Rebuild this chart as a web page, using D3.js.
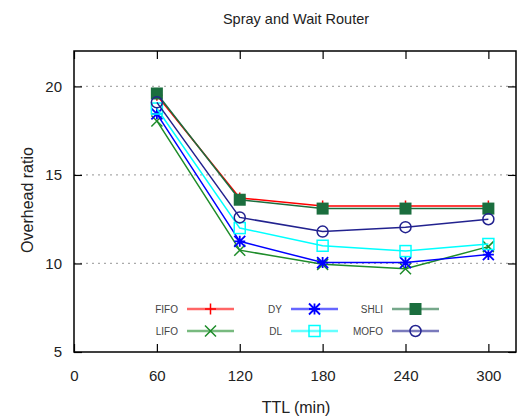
<!DOCTYPE html>
<html>
<head>
<meta charset="utf-8">
<script src="https://cdn.jsdelivr.net/npm/d3@7"></script>
<style>
  body { margin: 0; background: #fff; }
  text { font-family: "Liberation Sans", Arial, sans-serif; }
</style>
</head>
<body>
<svg id="chart" width="523" height="418"></svg>
<script>
// TTL values (min)
const ttl = [60, 120, 180, 240, 300];

// overhead ratio per buffer policy
const fifo = [19.5, 13.7, 13.25, 13.25, 13.25];
const lifo = [18.05, 10.75, 9.95, 9.7, 10.95];
const dy   = [18.45, 11.25, 10.05, 10.05, 10.5];
const dl   = [18.75, 12.0, 11.0, 10.7, 11.1];
const shli = [19.6, 13.6, 13.1, 13.1, 13.1];
const mofo = [19.1, 12.6, 11.8, 12.05, 12.5];

const xTicks = [0, 60, 120, 180, 240, 300];
const yTicks = [5, 10, 15, 20];

const series = [
    { name: "FIFO", values: fifo, color: "#ff0000", marker: "plus" },
    { name: "LIFO", values: lifo, color: "#1e8c2a", marker: "cross" },
    { name: "DY",   values: dy,   color: "#0000ff", marker: "star" },
    { name: "DL",   values: dl,   color: "#00ffff", marker: "square" },
    { name: "SHLI", values: shli, color: "#1b6e3e", marker: "filledSquare" },
    { name: "MOFO", values: mofo, color: "#22228f", marker: "circle" }
];

const svg = d3.select("#chart");
const margin = { left: 74, right: 7, top: 51, bottom: 66 };
const width = 523 - margin.left - margin.right;
const height = 418 - margin.top - margin.bottom;

const x = d3.scaleLinear().domain([0, 320]).range([0, width]);
const y = d3.scaleLinear().domain([5, 22]).range([height, 0]);

const g = svg.append("g").attr("transform", `translate(${margin.left},${margin.top})`);

// dotted grid
g.selectAll(".grid")
    .data(yTicks.filter(d => d > 5))
    .join("line")
    .attr("x1", 0).attr("x2", width)
    .attr("y1", d => y(d)).attr("y2", d => y(d))
    .attr("stroke", "#aaa")
    .attr("stroke-width", 1.2)
    .attr("stroke-dasharray", "2,4");

// axes with inward ticks
const axisStyle = sel => {
    sel.select(".domain").remove();
    sel.selectAll("line").attr("stroke", "#000").attr("stroke-width", 1.2);
    sel.selectAll("text").attr("font-size", 15).attr("fill", "#222")
        .attr("font-family", "Liberation Sans, Arial, sans-serif");
};

g.append("g")
    .attr("transform", `translate(0,${height})`)
    .call(d3.axisBottom(x).tickValues(xTicks).tickSizeInner(-8).tickSizeOuter(0).tickPadding(18))
    .call(axisStyle);
g.append("g")
    .call(d3.axisTop(x).tickValues(xTicks).tickSizeInner(-8).tickSizeOuter(0).tickFormat(""))
    .call(axisStyle);
g.append("g")
    .call(d3.axisLeft(y).tickValues(yTicks).tickSizeInner(-8).tickSizeOuter(0).tickPadding(12))
    .call(axisStyle);
g.append("g")
    .attr("transform", `translate(${width},0)`)
    .call(d3.axisRight(y).tickValues(yTicks).tickSizeInner(-8).tickSizeOuter(0).tickFormat(""))
    .call(axisStyle);

// frame
g.append("rect")
    .attr("width", width).attr("height", height)
    .attr("fill", "none").attr("stroke", "#000").attr("stroke-width", 1.5);

// marker drawing
function drawMarker(sel, type, color, s) {
    if (type === "plus") {
        sel.append("path").attr("d", `M${-s},0H${s}M0,${-s}V${s}`)
            .attr("stroke", color).attr("stroke-width", 1.5).attr("fill", "none");
    } else if (type === "cross") {
        sel.append("path").attr("d", `M${-s},${-s}L${s},${s}M${-s},${s}L${s},${-s}`)
            .attr("stroke", color).attr("stroke-width", 1.5).attr("fill", "none");
    } else if (type === "star") {
        sel.append("path").attr("d", `M${-s},0H${s}M0,${-s}V${s}M${-s},${-s}L${s},${s}M${-s},${s}L${s},${-s}`)
            .attr("stroke", color).attr("stroke-width", 1.8).attr("fill", "none");
    } else if (type === "square") {
        sel.append("rect").attr("x", -s).attr("y", -s).attr("width", 2 * s).attr("height", 2 * s)
            .attr("stroke", color).attr("stroke-width", 1.5).attr("fill", "none");
    } else if (type === "filledSquare") {
        sel.append("rect").attr("x", -s).attr("y", -s).attr("width", 2 * s).attr("height", 2 * s)
            .attr("fill", color);
    } else if (type === "circle") {
        sel.append("circle").attr("r", s)
            .attr("stroke", color).attr("stroke-width", 1.5).attr("fill", "none");
    }
}

const line = d3.line().x((d, i) => x(ttl[i])).y(d => y(d));

series.forEach(s => {
    g.append("path")
        .datum(s.values)
        .attr("d", line)
        .attr("fill", "none")
        .attr("stroke", s.color)
        .attr("stroke-width", 1.5);
    s.values.forEach((v, i) => {
        const m = g.append("g").attr("transform", `translate(${x(ttl[i])},${y(v)})`);
        drawMarker(m, s.marker, s.color, s.marker === "filledSquare" ? 6 : 5.5);
    });
});

// legend: three columns, two rows
const legendCols = [178, 282, 383];
const legendRows = [309, 331];
series.forEach((s, i) => {
    const col = Math.floor(i / 2), row = i % 2;
    const lx = legendCols[col], ly = legendRows[row];
    const lg = svg.append("g");
    lg.append("text")
        .attr("x", lx).attr("y", ly + 3.5)
        .attr("text-anchor", "end")
        .attr("font-size", 10)
        .attr("fill", "#444")
        .text(s.name);
    lg.append("line")
        .attr("x1", lx + 9).attr("x2", lx + 56)
        .attr("y1", ly).attr("y2", ly)
        .attr("stroke", s.color).attr("stroke-width", 2.5).attr("stroke-opacity", 0.6);
    const m = lg.append("g").attr("transform", `translate(${lx + 32.5},${ly})`);
    drawMarker(m, s.marker, s.color, s.marker === "filledSquare" ? 6 : 5.5);
});

// title and axis labels
svg.append("text")
    .attr("x", 296).attr("y", 24)
    .attr("text-anchor", "middle")
    .attr("font-size", 14.5)
    .attr("fill", "#222")
    .text("Spray and Wait Router");

svg.append("text")
    .attr("x", 296).attr("y", 413)
    .attr("text-anchor", "middle")
    .attr("font-size", 16)
    .attr("fill", "#222")
    .text("TTL (min)");

svg.append("text")
    .attr("transform", "translate(33,200) rotate(-90)")
    .attr("text-anchor", "middle")
    .attr("font-size", 16)
    .attr("fill", "#222")
    .text("Overhead ratio");
</script>
</body>
</html>
